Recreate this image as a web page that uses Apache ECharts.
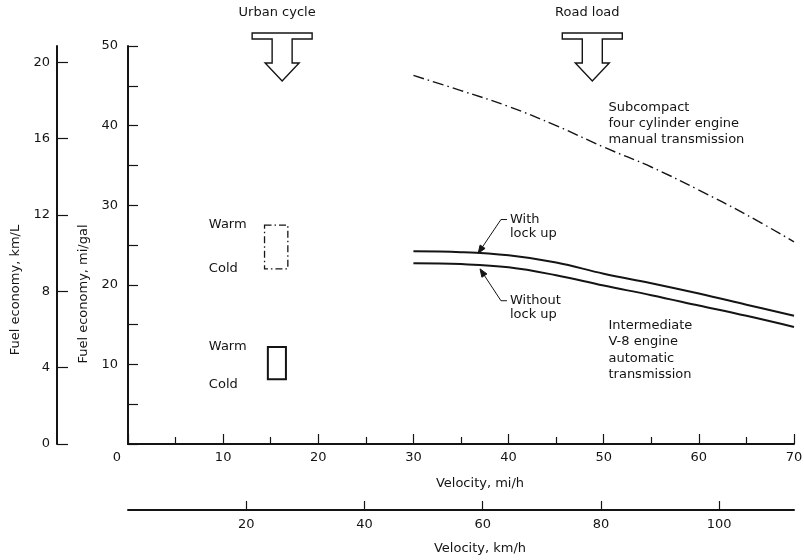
<!DOCTYPE html>
<html>
<head>
<meta charset="utf-8">
<script src="https://cdn.jsdelivr.net/npm/echarts@6/dist/echarts.min.js"></script>
<style>
  html, body { margin: 0; padding: 0; background: #fff; }
  #chart { width: 804px; height: 560px; }
</style>
</head>
<body>
<div id="chart"></div>
<script>
// road load curves, velocity in mi/h, fuel economy in mi/gal
const velocityMph = [30, 35, 40, 45, 50, 55, 60, 65, 70];
const subcompactMpg = [46.3, 44.4, 42.4, 40.0, 37.3, 34.8, 31.9, 28.8, 25.4];
const withLockUpMpg = [24.2, 24.1, 23.7, 22.8, 21.4, 20.2, 18.9, 17.5, 16.1];
const withoutLockUpMpg = [22.7, 22.6, 22.2, 21.2, 19.9, 18.7, 17.4, 16.1, 14.7];

// urban cycle boxes (warm / cold)
const urbanBoxFromMph = [14.35, 14.7];
const urbanBoxToMph = [16.8, 16.6];
const urbanWarmMpg = [27.5, 12.2];
const urbanColdMpg = [22.0, 8.15];
const urbanLabelMph = 8.5;

// test cycle arrows
const cycleNames = ['Urban cycle', 'Road load'];
const cycleMph = [16.2, 48.8];

// leader notes
const leaderText = ['With\nlock up', 'Without\nlock up'];
const leaderTip = [[36.8, 23.95], [37.0, 22.0]];
const leaderElbow = [[39.2, 28.2], [39.2, 18.0]];

// car descriptions
const carText = [
  'Subcompact\nfour cylinder engine\nmanual transmission',
  'Intermediate\nV-8 engine\nautomatic\ntransmission'
];
const carTextAt = [[50.5, 43.3], [50.5, 15.9]];

// axis limits
const mphMax = 70;
const kmhMax = mphMax * 1.609344;
const mpgMax = 50;
const kmlMax = 20.86;

const FONT = '"DejaVu Sans", sans-serif';
const INK = '#141414';

function pairs(xs, ys) {
  return xs.map((x, i) => [x, ys[i]]);
}

function renderBox(params, api) {
  const i = params.dataIndex;
  const p1 = api.coord([api.value(0), api.value(2)]);
  const p2 = api.coord([api.value(1), api.value(3)]);
  const lx = api.coord([urbanLabelMph, 0])[0];
  const txt = { fill: INK, font: '13px ' + FONT, align: 'left', verticalAlign: 'middle' };
  return {
    type: 'group',
    children: [
      {
        type: 'rect',
        shape: { x: p1[0], y: p1[1], width: p2[0] - p1[0], height: p2[1] - p1[1] },
        style: {
          fill: null,
          stroke: INK,
          lineWidth: i === 0 ? 1.3 : 2,
          lineDash: i === 0 ? [7, 3, 1.5, 3] : null
        }
      },
      { type: 'text', style: Object.assign({ text: 'Warm', x: lx, y: p1[1] }, txt) },
      { type: 'text', style: Object.assign({ text: 'Cold', x: lx, y: p2[1] + (i === 1 ? 5 : 0) }, txt) }
    ]
  };
}

function renderCycle(params, api) {
  const p = api.coord([api.value(0), api.value(1)]);
  const cx = p[0], t = p[1];
  const pts = [
    [cx - 30, t - 13], [cx + 30, t - 13], [cx + 30, t - 7], [cx + 10, t - 7],
    [cx + 10, t + 17], [cx + 17, t + 17], [cx, t + 35], [cx - 17, t + 17],
    [cx - 10, t + 17], [cx - 10, t - 7], [cx - 30, t - 7]
  ];
  return {
    type: 'group',
    children: [
      { type: 'polygon', shape: { points: pts }, style: { fill: '#fff', stroke: INK, lineWidth: 1.4 } },
      {
        type: 'text',
        style: {
          text: cycleNames[params.dataIndex], x: cx - 5, y: t - 33,
          fill: INK, font: '13px ' + FONT, align: 'center', verticalAlign: 'middle'
        }
      }
    ]
  };
}

function renderLeader(params, api) {
  const tip = api.coord([api.value(0), api.value(1)]);
  const elb = api.coord([api.value(2), api.value(3)]);
  const dx = tip[0] - elb[0], dy = tip[1] - elb[1];
  const len = Math.sqrt(dx * dx + dy * dy);
  const ux = dx / len, uy = dy / len;
  const nx = -uy, ny = ux;
  const bx = tip[0] - ux * 8, by = tip[1] - uy * 8;
  return {
    type: 'group',
    children: [
      {
        type: 'polyline',
        shape: { points: [[bx, by], elb, [elb[0] + 6, elb[1]]] },
        style: { stroke: INK, lineWidth: 1, fill: null }
      },
      {
        type: 'polygon',
        shape: { points: [tip, [bx + nx * 3, by + ny * 3], [bx - nx * 3, by - ny * 3]] },
        style: { fill: INK, stroke: INK, lineWidth: 1 }
      },
      {
        type: 'text',
        style: {
          text: leaderText[params.dataIndex], x: elb[0] + 9, y: elb[1] - 7.5,
          fill: INK, font: '13px ' + FONT, lineHeight: 14.5, align: 'left', verticalAlign: 'top'
        }
      }
    ]
  };
}

function renderCarText(params, api) {
  const p = api.coord([api.value(0), api.value(1)]);
  return {
    type: 'text',
    style: {
      text: carText[params.dataIndex], x: p[0], y: p[1],
      fill: INK, font: '13px ' + FONT, lineHeight: 16.3, align: 'left', verticalAlign: 'top'
    }
  };
}

const axisBase = {
  type: 'value',
  axisLine: { show: true, onZero: false, lineStyle: { color: INK, width: 2 } },
  axisTick: { show: true, inside: true, length: 10, lineStyle: { color: INK, width: 1.2 } },
  splitLine: { show: false },
  nameTextStyle: { color: INK, fontSize: 13, fontFamily: FONT }
};

const option = {
  animation: false,
  textStyle: { fontFamily: FONT, color: INK },
  grid: { left: 128, right: 10, top: 46, bottom: 116, containLabel: false, outerBoundsMode: 'none' },
  xAxis: [
    Object.assign({}, axisBase, {
      min: 0, max: mphMax, interval: 10, position: 'bottom',
      minorTick: { show: true, splitNumber: 2, length: 7, lineStyle: { color: INK, width: 1.2 } },
      axisLabel: {
        margin: 7, color: INK, fontSize: 13, fontFamily: FONT,
        formatter: v => (v === 0 ? '{z|0}' : String(v)),
        rich: { z: { padding: [0, 22, 0, 0], fontSize: 13, color: INK, fontFamily: FONT } }
      },
      name: 'Velocity, mi/h', nameLocation: 'middle', nameGap: 33,
      nameTextStyle: { color: INK, fontSize: 13, fontFamily: FONT, padding: [0, 0, 0, 38] }
    }),
    Object.assign({}, axisBase, {
      min: 0, max: kmhMax, interval: 20, position: 'bottom', offset: 66,
      axisTick: { show: true, inside: true, length: 9, lineStyle: { color: INK, width: 1.2 } },
      axisLabel: { margin: 8, color: INK, fontSize: 13, fontFamily: FONT, showMinLabel: false, showMaxLabel: false },
      name: 'Velocity, km/h', nameLocation: 'middle', nameGap: 32,
      nameTextStyle: { color: INK, fontSize: 13, fontFamily: FONT, padding: [0, 0, 0, 38] }
    })
  ],
  yAxis: [
    Object.assign({}, axisBase, {
      min: 0, max: mpgMax, interval: 10, position: 'left',
      minorTick: { show: true, splitNumber: 2, length: 10, lineStyle: { color: INK, width: 1.2 } },
      axisLabel: { margin: 10, color: INK, fontSize: 13, fontFamily: FONT, showMinLabel: false },
      name: 'Fuel economy, mi/gal', nameLocation: 'middle', nameGap: 36, nameRotate: 90,
      nameTextStyle: { color: INK, fontSize: 13, fontFamily: FONT, padding: [0, 98, 0, 0] }
    }),
    Object.assign({}, axisBase, {
      min: 0, max: kmlMax, interval: 4, position: 'left', offset: 71,
      axisTick: { show: true, inside: true, length: 11, lineStyle: { color: INK, width: 1.2 } },
      axisLabel: { margin: 7, color: INK, fontSize: 13, fontFamily: FONT, showMaxLabel: false },
      name: 'Fuel economy, km/L', nameLocation: 'middle', nameGap: 30, nameRotate: 90,
      nameTextStyle: { color: INK, fontSize: 13, fontFamily: FONT, padding: [0, 90, 0, 0] }
    })
  ],
  series: [
    {
      name: 'Subcompact', type: 'line', smooth: 0.4, showSymbol: false, silent: true,
      data: pairs(velocityMph, subcompactMpg),
      lineStyle: { color: INK, width: 1.4, type: [11, 4, 1.5, 4] }
    },
    {
      name: 'With lock up', type: 'line', smooth: 0.4, showSymbol: false, silent: true,
      data: pairs(velocityMph, withLockUpMpg),
      lineStyle: { color: INK, width: 2 }
    },
    {
      name: 'Without lock up', type: 'line', smooth: 0.4, showSymbol: false, silent: true,
      data: pairs(velocityMph, withoutLockUpMpg),
      lineStyle: { color: INK, width: 2 }
    },
    {
      name: 'Urban boxes', type: 'custom', silent: true, renderItem: renderBox,
      data: urbanBoxFromMph.map((x, i) => [x, urbanBoxToMph[i], urbanWarmMpg[i], urbanColdMpg[i]])
    },
    {
      name: 'Cycles', type: 'custom', silent: true, renderItem: renderCycle,
      data: cycleMph.map(x => [x, mpgMax])
    },
    {
      name: 'Leaders', type: 'custom', silent: true, renderItem: renderLeader,
      data: leaderTip.map((t, i) => [t[0], t[1], leaderElbow[i][0], leaderElbow[i][1]])
    },
    {
      name: 'Car notes', type: 'custom', silent: true, renderItem: renderCarText,
      data: carTextAt
    }
  ]
};

const chart = echarts.init(document.getElementById('chart'));
chart.setOption(option);
</script>
</body>
</html>
